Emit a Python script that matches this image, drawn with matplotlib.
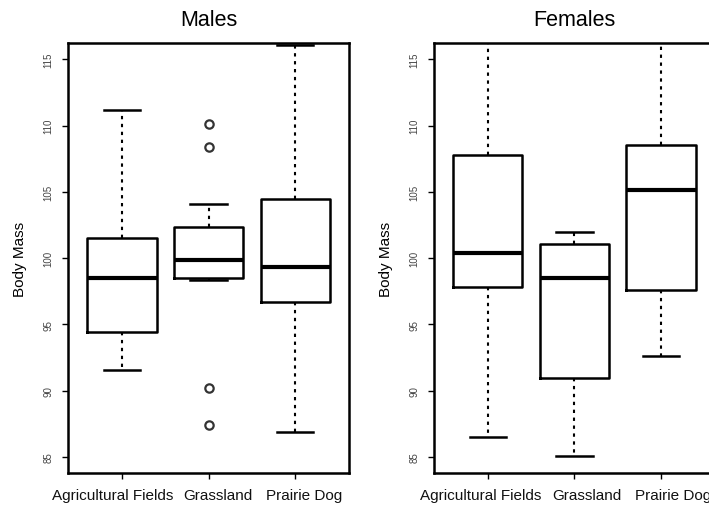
import matplotlib
matplotlib.use("Agg")
import matplotlib.pyplot as plt
import matplotlib.transforms as mtransforms

plt.rcParams['font.family'] = ['Liberation Sans', 'DejaVu Sans']

groups = ["Agricultural Fields", "Grassland", "Prairie Dog"]
panel_titles = ["Males", "Females"]
y_ticks = [85, 90, 95, 100, 105, 110, 115]

# five-number summaries: low whisker, q1, median, q3, high whisker
males_low = [91.56, 98.35, 86.87]
males_q1 = [94.46, 98.53, 96.72]
males_med = [98.53, 99.85, 99.30]
males_q3 = [101.54, 102.32, 104.45]
males_high = [111.16, 104.05, 116.10]
males_fliers = [[], [110.1, 108.4, 90.24, 87.42], []]

females_low = [86.54, 85.10, 92.65]
females_q1 = [97.80, 91.00, 97.59]
females_med = [100.36, 98.47, 105.13]
females_q3 = [107.74, 101.10, 108.52]
females_high = [118.0, 102.0, 118.0]
females_fliers = [[], [], []]


def make_stats(low, q1, med, q3, high, fliers):
    stats = []
    for i in range(len(groups)):
        stats.append(dict(whislo=low[i], q1=q1[i], med=med[i], q3=q3[i],
                          whishi=high[i], fliers=fliers[i], label=groups[i]))
    return stats


fig = plt.figure(figsize=(7.09, 5.06), dpi=100)
W, H = 709, 506

panels = [
    (68.3, make_stats(males_low, males_q1, males_med, males_q3, males_high, males_fliers),
     [-9.5, 9, 9]),
    (434.0, make_stats(females_low, females_q1, females_med, females_q3, females_high, females_fliers),
     [-7, 12.5, 12]),
]

for (left_px, stats, shifts), title in zip(panels, panel_titles):
    ax = fig.add_axes([left_px / W, 1 - 474 / H, 280.7 / W, (474 - 44.3) / H])
    ax.bxp(stats, positions=[1, 2, 3], widths=0.8, showfliers=True,
           boxprops=dict(color='black', lw=1.8),
           medianprops=dict(color='black', lw=3.0),
           whiskerprops=dict(color='black', lw=1.5, linestyle=(0, (1.6, 2.2))),
           capprops=dict(color='black', lw=1.8),
           flierprops=dict(marker='o', markersize=6, markerfacecolor='none',
                           markeredgecolor='#333333', markeredgewidth=1.6),
           capwidths=0.42)
    ax.set_xlim(0.38, 3.62)
    ax.set_ylim(83.8, 116.2)
    ax.set_xticks([1, 2, 3])
    ax.set_xticklabels(groups, fontsize=11, color='#111111')
    ax.set_yticks(y_ticks)
    ax.set_yticklabels([str(t) for t in y_ticks], fontsize=7, rotation=90,
                       va='center', color='#444444')
    ax.tick_params(axis='both', direction='out', length=4.5, width=1.0)
    ax.tick_params(axis='x', pad=6)
    ax.tick_params(axis='y', pad=6)
    # labels in the original sit a little off their ticks
    for lab, dx in zip(ax.get_xticklabels(), shifts):
        off = mtransforms.ScaledTranslation(dx / 100, 0, fig.dpi_scale_trans)
        lab.set_transform(lab.get_transform() + off)
    for s in ax.spines.values():
        s.set_linewidth(1.8)
    ax.set_ylabel("Body Mass", fontsize=11, labelpad=12)
    ax.set_title(title, fontsize=15.5, pad=13)

plt.savefig("out.png", dpi=100)
